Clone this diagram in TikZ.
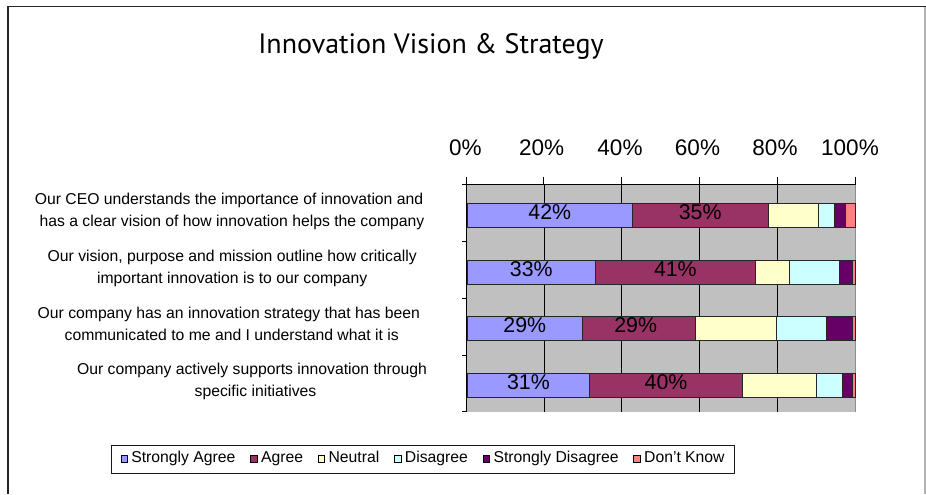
\documentclass[tikz,border=0pt]{standalone}
\usepackage{fontspec}
\setmainfont{Liberation Sans}
\newfontfamily\titlefont{PT Sans}
\definecolor{csa}{HTML}{9999FF}
\definecolor{cag}{HTML}{993366}
\definecolor{cne}{HTML}{FFFFCC}
\definecolor{cdi}{HTML}{CCFFFF}
\definecolor{csd}{HTML}{660066}
\definecolor{cdk}{HTML}{FF8080}
\definecolor{plotgray}{HTML}{C0C0C0}
\newcommand\drawbarrow[8]{%
  \filldraw[seg,fill=csa] (#2,#1-12) rectangle (#3,#1+12);
  \filldraw[seg,fill=cag] (#3,#1-12) rectangle (#4,#1+12);
  \filldraw[seg,fill=cne] (#4,#1-12) rectangle (#5,#1+12);
  \filldraw[seg,fill=cdi] (#5,#1-12) rectangle (#6,#1+12);
  \filldraw[seg,fill=csd] (#6,#1-12) rectangle (#7,#1+12);
  \filldraw[seg,fill=cdk] (#7,#1-12) rectangle (#8,#1+12);
}
\begin{document}
\begin{tikzpicture}[x=0.75pt,y=-0.75pt,
  seg/.style={draw=black!85, line width=0.6pt},
  cat/.style={font=\fontsize{11.8}{14}\selectfont, anchor=base, inner sep=0},
  pct/.style={font=\fontsize{16}{19}\selectfont, anchor=base, inner sep=0},
  axl/.style={font=\fontsize{16.9}{20}\selectfont, anchor=base, inner sep=0},
  lsq/.style={draw=black, line width=0.4pt, minimum size=4.8pt, inner sep=0, anchor=west},
  ltxt/.style={font=\fontsize{11.8}{14}\selectfont, anchor=base west, inner sep=0, xshift=2.6pt},
  gridln/.style={draw=black, line width=0.6pt},
]
\useasboundingbox (0,0) rectangle (926,494);
\fill[white] (0,0) rectangle (926,494);
% outer frame
\draw[line width=1pt, black!85] (8,494) -- (8,6.5) -- (926,6.5);
\draw[line width=0.8pt, black!30] (925,6.5) -- (925,494);

% title
\node[font=\titlefont\fontsize{21}{25}\selectfont] (title) at (431,46) {Innovation Vision \& Strategy};

% plot area
\fill[plotgray] (467,184.3) rectangle (855.5,412);
\draw[black!45, line width=0.6pt] (855.5,184.3) -- (855.5,412);
\foreach \i in {1,...,4} \draw[gridln] ({466+77.9*\i},184.3) -- ({466+77.9*\i},412);
% axes
\draw[line width=0.7pt] (466,412) -- (466,184.3) -- (855.5,184.3);
\foreach \i in {0,...,5} \draw[line width=0.7pt] ({466+77.9*\i},177) -- ({466+77.9*\i},184.3);
\foreach \j in {0,...,4} \draw[line width=0.7pt] (462,{184.3+56.9*\j}) -- (466,{184.3+56.9*\j});

% axis labels
\node[axl] (a0) at (465.5,155) {0\%};
\node[axl] (a20) at (541.7,155) {20\%};
\node[axl] (a40) at (620,155) {40\%};
\node[axl] (a60) at (697.5,155) {60\%};
\node[axl] (a80) at (775,155) {80\%};
\node[axl] (a100) at (850,155) {100\%};

% bars
\drawbarrow{215.3}{467.5}{632}{768.3}{818.7}{834.3}{845}{855.5}
\drawbarrow{272}{467.5}{595}{755.7}{789.7}{839.3}{852.7}{855.5}
\drawbarrow{328.7}{467.5}{582}{695.3}{776.7}{826.7}{852.7}{855.5}
\drawbarrow{385.4}{467.5}{589.3}{742.7}{816}{842}{852.7}{855.5}

% bar labels
\node[pct] (p1a) at ({(467.5+632)/2},219.3) {42\%};
\node[pct] (p1b) at ({(632+768.3)/2},219.3) {35\%};
\node[pct] (p2a) at ({(467.5+595)/2},276) {33\%};
\node[pct] (p2b) at ({(595+755.7)/2},276) {41\%};
\node[pct] (p3a) at ({(467.5+582)/2},332.7) {29\%};
\node[pct] (p3b) at ({(582+695.3)/2-3},332.7) {29\%};
\node[pct] (p4a) at ({(467.5+589.3)/2},389.4) {31\%};
\node[pct] (p4b) at ({(589.3+742.7)/2},389.4) {40\%};

% category labels
\node[cat] (c1a) at (229,204.8) {Our CEO understands the importance of innovation and};
\node[cat] (c1b) at (232,226.8) {has a clear vision of how innovation helps the company};
\node[cat] (c2a) at (232.2,261.5) {Our vision, purpose and mission outline how critically};
\node[cat] (c2b) at (232.2,283.5) {important innovation is to our company};
\node[cat] (c3a) at (228.8,318.2) {Our company has an innovation strategy that has been};
\node[cat] (c3b) at (231.7,340.2) {communicated to me and I understand what it is};
\node[cat] (c4a) at (252,374.9) {Our company actively supports innovation through};
\node[cat] (c4b) at (255.5,396.9) {specific initiatives};

% legend
\draw[line width=0.7pt, black!90] (111.7,445) rectangle (734.3,473);
\coordinate (lsy) at (0,458.7);
\coordinate (lby) at (0,462);
\node[lsq, fill=csa] (s1) at (120.7,458.7) {};
\node[ltxt] (t1) at (s1.east |- lby) {Strongly Agree};
\node[lsq, fill=cag, xshift=11pt] (s2) at (t1.east |- lsy) {};
\node[ltxt] (t2) at (s2.east |- lby) {Agree};
\node[lsq, fill=cne, xshift=11pt] (s3) at (t2.east |- lsy) {};
\node[ltxt] (t3) at (s3.east |- lby) {Neutral};
\node[lsq, fill=cdi, xshift=11pt] (s4) at (t3.east |- lsy) {};
\node[ltxt] (t4) at (s4.east |- lby) {Disagree};
\node[lsq, fill=csd, xshift=11pt] (s5) at (t4.east |- lsy) {};
\node[ltxt] (t5) at (s5.east |- lby) {Strongly Disagree};
\node[lsq, fill=cdk, xshift=11pt] (s6) at (t5.east |- lsy) {};
\node[ltxt] (t6) at (s6.east |- lby) {Don't Know};
\end{tikzpicture}
\end{document}
